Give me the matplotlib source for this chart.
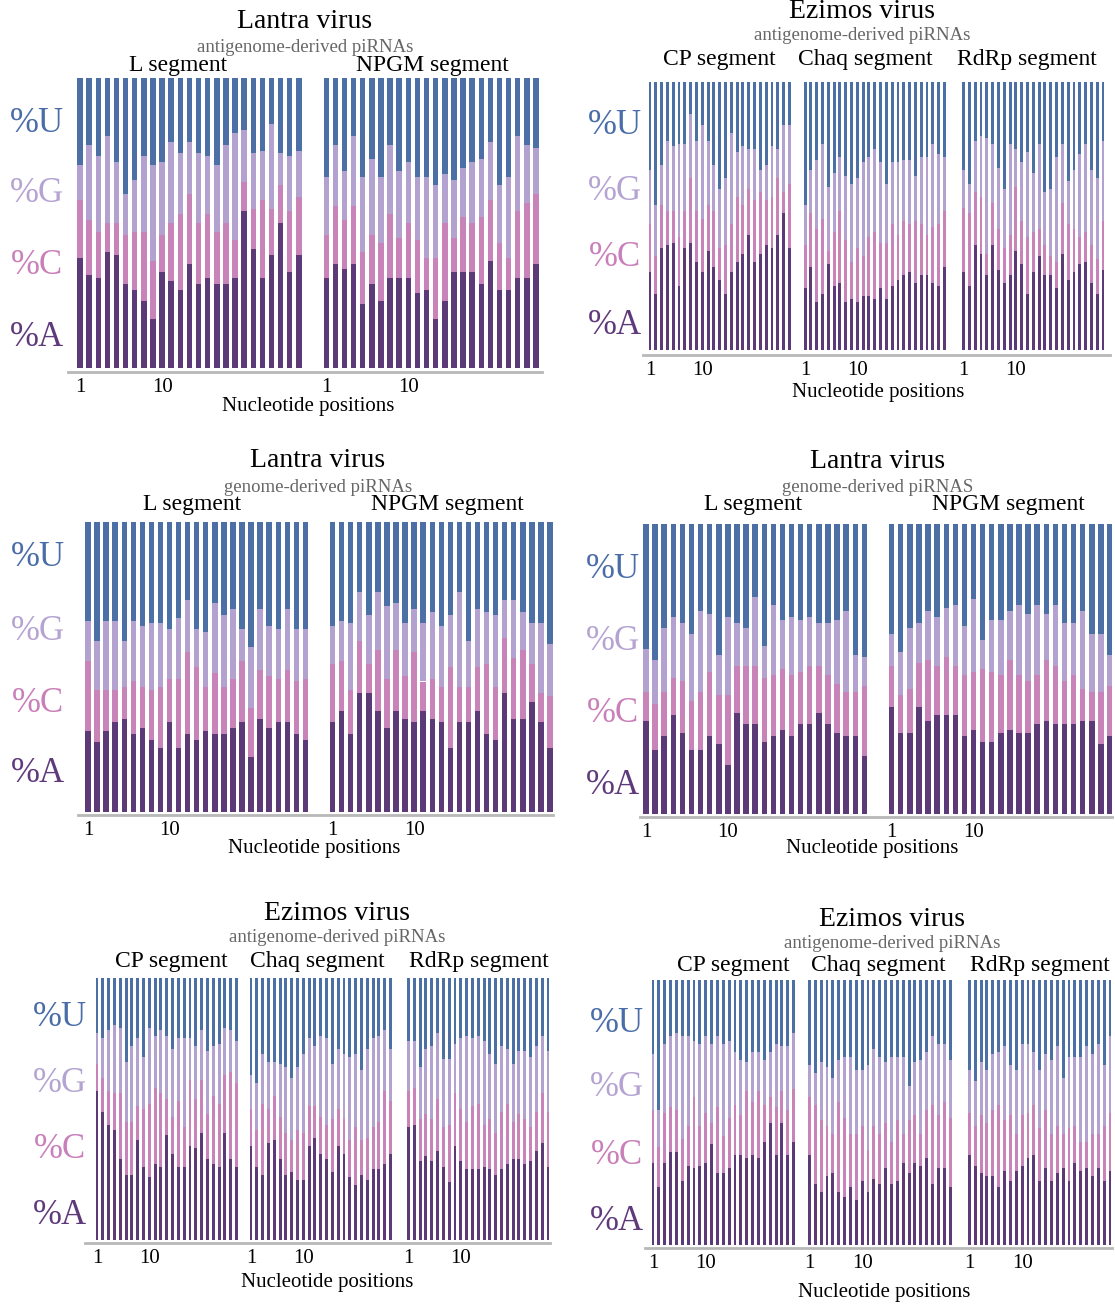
"""Per-position nucleotide composition of viral piRNAs (stacked bars)."""
import matplotlib
matplotlib.use("Agg")
import matplotlib.pyplot as plt
import numpy as np

plt.rcParams["font.family"] = ["Liberation Serif", "DejaVu Serif"]

W, H = 1115, 1310

# ---- data: % of each nucleotide per position (A, C, G, U) ----
# Lantra virus, antigenome-derived
p1_L_A = [38, 32, 31, 40, 39, 29, 27, 23, 17, 33, 30, 27, 36, 29, 31, 29, 29, 31, 54, 41, 31, 39, 50, 33, 39]
p1_L_C = [20, 19, 16, 10, 11, 17, 20, 24, 20, 13, 20, 26, 24, 21, 22, 18, 21, 13, 10, 14, 27, 16, 13, 21, 20]
p1_L_G = [12, 26, 26, 30, 21, 14, 18, 26, 33, 25, 28, 21, 18, 24, 20, 23, 27, 37, 18, 19, 17, 29, 11, 19, 16]
p1_L_U = [30, 23, 27, 20, 29, 40, 35, 27, 30, 29, 22, 26, 22, 26, 27, 30, 23, 19, 18, 26, 25, 16, 26, 27, 25]
p1_N_A = [31, 36, 34, 36, 22, 29, 23, 31, 31, 31, 26, 27, 17, 23, 33, 33, 33, 29, 37, 27, 27, 31, 31, 36]
p1_N_C = [15, 20, 17, 20, 18, 17, 20, 22, 14, 19, 18, 11, 21, 27, 12, 19, 17, 23, 21, 16, 11, 23, 26, 24]
p1_N_G = [20, 21, 17, 24, 26, 26, 23, 24, 23, 21, 22, 28, 25, 17, 20, 17, 21, 20, 20, 20, 28, 26, 20, 16]
p1_N_U = [34, 23, 32, 20, 34, 28, 34, 23, 32, 29, 34, 34, 37, 33, 35, 31, 29, 28, 22, 37, 34, 20, 23, 24]

# Ezimos virus, antigenome-derived (top right)
p2_CP_A = [29, 21, 38, 39, 40, 24, 38, 40, 33, 29, 37, 31, 26, 21, 29, 33, 36, 43, 33, 36, 39, 38, 43, 51, 38]
p2_CP_C = [18, 14, 16, 13, 12, 18, 14, 24, 19, 20, 17, 21, 12, 18, 18, 24, 18, 17, 23, 23, 17, 19, 21, 8, 24]
p2_CP_G = [20, 19, 15, 26, 24, 35, 25, 24, 26, 35, 24, 17, 22, 25, 34, 17, 22, 15, 19, 8, 13, 19, 11, 25, 22]
p2_CP_U = [33, 46, 31, 22, 24, 23, 23, 12, 22, 16, 22, 31, 40, 36, 19, 26, 24, 25, 25, 33, 31, 24, 25, 16, 16]
p2_CH_A = [23, 31, 18, 21, 32, 24, 25, 18, 19, 18, 20, 20, 19, 23, 19, 24, 26, 28, 29, 25, 28, 28, 25, 24, 31]
p2_CH_C = [16, 20, 27, 28, 5, 20, 27, 23, 14, 20, 15, 22, 25, 17, 21, 23, 17, 20, 18, 23, 19, 15, 21, 23, 21]
p2_CH_G = [15, 16, 26, 28, 24, 22, 20, 24, 29, 26, 35, 30, 31, 30, 22, 23, 27, 23, 24, 17, 25, 29, 31, 26, 20]
p2_CH_U = [46, 33, 29, 23, 39, 34, 28, 35, 38, 36, 30, 28, 25, 30, 38, 30, 30, 29, 29, 35, 28, 28, 23, 27, 28]
p2_RD_A = [29, 24, 39, 36, 28, 39, 30, 25, 28, 37, 32, 21, 29, 35, 28, 28, 23, 36, 26, 29, 32, 33, 25, 21, 30]
p2_RD_C = [24, 27, 20, 21, 8, 16, 15, 13, 15, 24, 16, 21, 15, 10, 11, 7, 10, 19, 21, 16, 10, 11, 14, 13, 18]
p2_RD_G = [14, 11, 19, 23, 43, 22, 23, 22, 34, 14, 22, 32, 22, 32, 20, 25, 39, 22, 16, 22, 31, 33, 28, 30, 30]
p2_RD_U = [33, 38, 22, 20, 21, 23, 32, 40, 23, 25, 30, 26, 34, 23, 41, 40, 28, 23, 37, 33, 27, 23, 33, 36, 22]

# Lantra virus, genome-derived (middle left)
p3_L_A = [28, 24, 28, 31, 32, 27, 29, 25, 22, 31, 22, 27, 25, 28, 27, 27, 29, 31, 19, 32, 29, 31, 31, 27, 25]
p3_L_C = [24, 18, 14, 11, 11, 18, 14, 17, 21, 15, 24, 28, 25, 15, 21, 16, 17, 21, 17, 17, 18, 15, 18, 18, 21]
p3_L_G = [14, 17, 24, 24, 16, 21, 21, 23, 22, 17, 21, 18, 13, 19, 24, 25, 24, 11, 21, 21, 17, 17, 21, 18, 17]
p3_L_U = [34, 41, 34, 34, 41, 34, 36, 35, 35, 37, 33, 27, 37, 38, 28, 32, 30, 37, 43, 30, 36, 37, 30, 37, 37]
p3_N_A = [31, 35, 27, 41, 41, 35, 29, 35, 32, 31, 35, 32, 31, 22, 31, 31, 35, 27, 25, 41, 32, 32, 38, 31, 22]
p3_N_C = [20, 17, 15, 18, 10, 21, 17, 21, 15, 24, 10, 14, 12, 28, 12, 12, 15, 24, 18, 19, 21, 24, 13, 10, 18]
p3_N_G = [13, 14, 23, 17, 17, 20, 25, 16, 18, 15, 20, 23, 21, 18, 33, 16, 20, 18, 25, 13, 20, 13, 14, 24, 18]
p3_N_U = [36, 34, 35, 24, 32, 24, 29, 28, 35, 30, 35, 31, 36, 32, 24, 41, 30, 31, 32, 27, 27, 31, 35, 35, 42]

# Lantra virus, genome-derived (middle right)
p4_L_A = [32, 22, 27, 34, 28, 22, 22, 27, 24, 17, 35, 31, 31, 25, 27, 29, 27, 31, 31, 35, 31, 28, 27, 27, 20]
p4_L_C = [10, 16, 15, 13, 18, 17, 20, 22, 17, 24, 16, 20, 20, 22, 21, 21, 21, 18, 20, 16, 17, 17, 15, 15, 24]
p4_L_G = [15, 15, 22, 21, 20, 23, 28, 20, 14, 27, 15, 13, 24, 11, 24, 17, 20, 18, 17, 15, 18, 22, 28, 13, 10]
p4_L_U = [43, 47, 36, 32, 34, 38, 30, 31, 45, 32, 34, 36, 25, 42, 28, 33, 32, 33, 32, 34, 34, 33, 30, 45, 46]
p4_N_A = [37, 28, 28, 37, 32, 34, 34, 34, 27, 29, 25, 25, 28, 29, 28, 28, 31, 32, 31, 31, 31, 32, 32, 24, 27]
p4_N_C = [14, 13, 15, 15, 21, 17, 20, 17, 21, 20, 25, 24, 20, 24, 20, 18, 17, 21, 20, 15, 17, 11, 10, 18, 17]
p4_N_G = [11, 15, 21, 14, 17, 17, 17, 21, 17, 25, 10, 18, 19, 17, 24, 23, 24, 16, 21, 20, 18, 27, 20, 20, 11]
p4_N_U = [38, 44, 36, 34, 30, 32, 29, 28, 35, 26, 40, 33, 33, 30, 28, 31, 28, 31, 28, 34, 34, 30, 38, 38, 45]

# Ezimos virus, antigenome-derived (bottom left)
p5_CP_A = [57, 49, 44, 42, 31, 25, 25, 38, 28, 24, 29, 28, 40, 33, 28, 28, 36, 35, 41, 31, 29, 28, 41, 31, 28]
p5_CP_C = [10, 13, 13, 14, 25, 20, 20, 13, 22, 28, 29, 28, 14, 14, 25, 15, 25, 19, 20, 17, 26, 24, 22, 33, 32]
p5_CP_G = [12, 15, 23, 26, 25, 23, 29, 26, 20, 29, 20, 24, 24, 26, 24, 34, 16, 20, 19, 24, 19, 23, 18, 16, 16]
p5_CP_U = [21, 23, 20, 18, 19, 32, 26, 23, 30, 19, 22, 20, 22, 27, 23, 23, 23, 26, 20, 28, 26, 25, 19, 20, 24]
p5_CH_A = [36, 28, 25, 37, 38, 31, 25, 26, 23, 23, 36, 39, 33, 31, 26, 36, 33, 24, 21, 25, 23, 27, 27, 29, 33]
p5_CH_C = [14, 14, 27, 13, 17, 16, 16, 12, 19, 18, 15, 12, 14, 13, 20, 14, 13, 14, 22, 13, 16, 16, 18, 28, 20]
p5_CH_G = [13, 18, 19, 18, 13, 20, 25, 24, 24, 30, 26, 23, 31, 33, 21, 23, 25, 32, 28, 27, 34, 34, 33, 23, 20]
p5_CH_U = [37, 40, 29, 32, 32, 33, 34, 38, 34, 29, 23, 26, 22, 23, 33, 27, 29, 30, 29, 35, 27, 23, 22, 20, 27]
p5_RD_A = [43, 44, 30, 32, 30, 34, 28, 22, 36, 30, 27, 27, 27, 28, 27, 25, 27, 29, 31, 31, 29, 30, 34, 37, 28]
p5_RD_C = [14, 14, 16, 16, 16, 20, 15, 22, 20, 20, 18, 24, 25, 16, 19, 16, 22, 23, 14, 17, 17, 13, 15, 19, 21]
p5_RD_G = [19, 18, 20, 25, 28, 25, 26, 25, 19, 27, 33, 26, 26, 32, 25, 26, 25, 21, 22, 24, 26, 27, 25, 22, 23]
p5_RD_U = [24, 24, 34, 27, 26, 21, 31, 31, 25, 23, 22, 23, 22, 24, 29, 33, 26, 27, 33, 28, 28, 30, 26, 22, 28]

# Ezimos virus, antigenome-derived (bottom right)
p6_CP_A = [31, 22, 31, 35, 35, 24, 30, 29, 30, 31, 38, 27, 27, 29, 34, 34, 33, 34, 33, 39, 46, 34, 46, 34, 39]
p6_CP_C = [20, 15, 19, 17, 16, 16, 15, 27, 15, 19, 8, 25, 14, 19, 19, 15, 25, 20, 25, 14, 10, 18, 12, 17, 20]
p6_CP_G = [21, 14, 26, 27, 29, 39, 34, 21, 31, 29, 30, 27, 35, 29, 20, 21, 11, 19, 15, 17, 17, 24, 17, 24, 21]
p6_CP_U = [28, 49, 24, 21, 20, 21, 21, 23, 24, 21, 24, 21, 24, 23, 27, 30, 31, 27, 27, 30, 27, 24, 25, 25, 20]
p6_CH_A = [34, 23, 20, 26, 27, 20, 18, 22, 17, 24, 20, 25, 23, 29, 23, 24, 31, 27, 31, 30, 33, 23, 29, 29, 22]
p6_CH_C = [22, 30, 27, 19, 15, 34, 30, 20, 25, 21, 16, 20, 19, 17, 16, 23, 11, 20, 18, 12, 18, 30, 20, 25, 26]
p6_CH_G = [12, 12, 22, 22, 21, 16, 23, 29, 24, 21, 32, 29, 29, 23, 32, 24, 29, 13, 20, 28, 22, 26, 27, 22, 22]
p6_CH_U = [32, 35, 31, 33, 37, 30, 29, 29, 34, 34, 32, 26, 29, 31, 29, 29, 29, 40, 31, 30, 27, 21, 24, 24, 30]
p6_RD_A = [34, 30, 27, 26, 26, 22, 28, 24, 28, 30, 33, 34, 24, 29, 24, 27, 29, 24, 31, 28, 29, 26, 29, 24, 28]
p6_RD_C = [16, 15, 22, 20, 25, 31, 19, 25, 14, 19, 17, 19, 20, 22, 18, 18, 13, 20, 14, 11, 10, 16, 13, 21, 22]
p6_RD_G = [16, 17, 20, 20, 21, 20, 28, 19, 24, 27, 26, 20, 22, 21, 28, 30, 21, 27, 26, 32, 36, 30, 34, 23, 29]
p6_RD_U = [34, 38, 31, 34, 28, 27, 25, 32, 34, 24, 24, 27, 34, 28, 30, 25, 37, 29, 29, 29, 25, 28, 24, 32, 21]

NUCS = ["A", "C", "G", "U"]
COLORS = {"A": "#5c3a78", "C": "#c884b8", "G": "#b3a1cf", "U": "#4c6fa6"}
LABEL_COLORS = {"A": "#5f3a7b", "C": "#c97fb9", "G": "#b5a3d2", "U": "#4a6da8"}

# layout, in pixels of the final image
panels = [
    dict(title="Lantra virus", sub="antigenome-derived piRNAs",
         segs=[("L segment", (p1_L_A, p1_L_C, p1_L_G, p1_L_U)),
               ("NPGM segment", (p1_N_A, p1_N_C, p1_N_G, p1_N_U))],
         offsets=[0, 27], width=0.6, box=(68, 542, 78, 372), bars=(80, 536), bar_bottom=368,
         title_xy=(305, 22), sub_y=47, seg_xy=[(178, 66), (432, 66)],
         row_x=37, row_y=[123, 194, 266, 338], xlab=(308, 406)),
    dict(title="Ezimos virus", sub="antigenome-derived piRNAs",
         segs=[("CP segment", (p2_CP_A, p2_CP_C, p2_CP_G, p2_CP_U)),
               ("Chaq segment", (p2_CH_A, p2_CH_C, p2_CH_G, p2_CH_U)),
               ("RdRp segment", (p2_RD_A, p2_RD_C, p2_RD_G, p2_RD_U))],
         offsets=[0, 26.7, 54], width=0.5, box=(643, 1110, 82, 355), bars=(650, 1103), bar_bottom=350,
         title_xy=(862, 12), sub_y=36, seg_xy=[(719, 60), (865, 60), (1027, 60)],
         row_x=615, row_y=[126, 192, 258, 325], xlab=(878, 392)),
    dict(title="Lantra virus", sub="genome-derived piRNAs",
         segs=[("L segment", (p3_L_A, p3_L_C, p3_L_G, p3_L_U)),
               ("NPGM segment", (p3_N_A, p3_N_C, p3_N_G, p3_N_U))],
         offsets=[0, 27], width=0.6, box=(78, 553, 522, 815), bars=(88, 550), bar_bottom=812,
         title_xy=(318, 461), sub_y=487, seg_xy=[(192, 505), (447, 505)],
         row_x=38, row_y=[558, 631, 703, 774], xlab=(314, 849)),
    dict(title="Lantra virus", sub="genome-derived piRNAS",
         segs=[("L segment", (p4_L_A, p4_L_C, p4_L_G, p4_L_U)),
               ("NPGM segment", (p4_N_A, p4_N_C, p4_N_G, p4_N_U))],
         offsets=[0, 27], width=0.6, box=(640, 1112, 524, 817), bars=(646, 1110), bar_bottom=814,
         title_xy=(878, 462), sub_y=487, seg_xy=[(753, 505), (1008, 505)],
         row_x=613, row_y=[570, 642, 713, 786], xlab=(872, 849)),
    dict(title="Ezimos virus", sub="antigenome-derived piRNAs",
         segs=[("CP segment", (p5_CP_A, p5_CP_C, p5_CP_G, p5_CP_U)),
               ("Chaq segment", (p5_CH_A, p5_CH_C, p5_CH_G, p5_CH_U)),
               ("RdRp segment", (p5_RD_A, p5_RD_C, p5_RD_G, p5_RD_U))],
         offsets=[0, 26.5, 53.6], width=0.5, box=(85, 550, 978, 1243), bars=(97, 548), bar_bottom=1240,
         title_xy=(337, 913), sub_y=938, seg_xy=[(171, 962), (317, 962), (479, 962)],
         row_x=60, row_y=[1018, 1083, 1150, 1216], xlab=(327, 1282)),
    dict(title="Ezimos virus", sub="antigenome-derived piRNAs",
         segs=[("CP segment", (p6_CP_A, p6_CP_C, p6_CP_G, p6_CP_U)),
               ("Chaq segment", (p6_CH_A, p6_CH_C, p6_CH_G, p6_CH_U)),
               ("RdRp segment", (p6_RD_A, p6_RD_C, p6_RD_G, p6_RD_U))],
         offsets=[0, 26.7, 54], width=0.5, box=(645, 1112, 980, 1248), bars=(653, 1110), bar_bottom=1245,
         title_xy=(892, 920), sub_y=943, seg_xy=[(733, 966), (878, 966), (1040, 966)],
         row_x=617, row_y=[1023, 1088, 1155, 1221], xlab=(884, 1293)),
]


def fx(x):
    return x / W


def fy(y):
    return 1 - y / H


fig = plt.figure(figsize=(W / 100, H / 100), dpi=100)

for p in panels:
    x0, x1, top, base = p["box"]
    ax = fig.add_axes([fx(x0), fy(base), (x1 - x0) / W, (base - top) / H])

    ticks, ticklabels = [], []
    last = 0
    for (name, vals), off in zip(p["segs"], p["offsets"]):
        xs = off + np.arange(len(vals[0]))
        bottom = np.zeros(len(xs))
        for nuc, v in zip(NUCS, vals):
            ax.bar(xs, v, bottom=bottom, width=p["width"], color=COLORS[nuc],
                   linewidth=0)
            bottom += np.array(v)
        ticks += [off, off + 9]
        ticklabels += ["1", "10"]
        last = xs[-1]

    # map first/last bar to their pixel positions
    bx0, bx1 = p["bars"]
    unit = (bx1 - bx0) / last
    ax.set_xlim(-(bx0 - x0) / unit, last + (x1 - bx1) / unit)
    ylo = -(base - p["bar_bottom"]) / (p["bar_bottom"] - top) * 100
    ax.set_ylim(ylo, 100)

    for s in ["top", "right", "left"]:
        ax.spines[s].set_visible(False)
    ax.spines["bottom"].set_color("#b8b8b8")
    ax.spines["bottom"].set_linewidth(2)
    ax.set_yticks([])
    ax.set_xticks(ticks)
    ax.set_xticklabels(ticklabels, fontsize=15)
    ax.tick_params(axis="x", length=0, pad=4)

    tx, ty = p["title_xy"]
    fig.text(fx(tx), fy(ty), p["title"], ha="center", va="center", fontsize=20)
    fig.text(fx(tx), fy(p["sub_y"]), p["sub"], ha="center", va="center",
             fontsize=13.5, color="#666666")
    for (name, _), (sx, sy) in zip(p["segs"], p["seg_xy"]):
        fig.text(fx(sx), fy(sy), name, ha="center", va="center", fontsize=17)
    for nuc, ry in zip(["U", "G", "C", "A"], p["row_y"]):
        fig.text(fx(p["row_x"]), fy(ry), "%" + nuc, ha="center", va="center",
                 fontsize=25, color=LABEL_COLORS[nuc])
    lx, ly = p["xlab"]
    fig.text(fx(lx), fy(ly), "Nucleotide positions", ha="center", va="center",
             fontsize=15)

fig.savefig("out.png", dpi=100, facecolor="white")
